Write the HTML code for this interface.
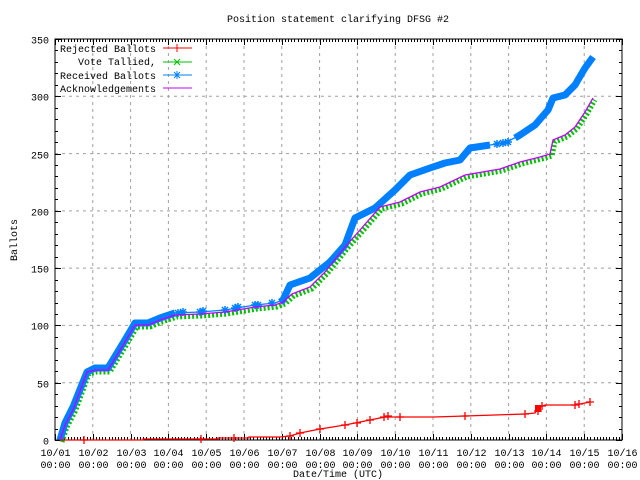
<!DOCTYPE html>
<html><head><meta charset="utf-8"><style>
body{margin:0;background:#fff}
svg{display:block;font-family:"Liberation Mono",monospace;font-size:10px}
</style></head><body>
<svg id="s" width="640" height="480" viewBox="0 0 640 480" xmlns="http://www.w3.org/2000/svg">
<rect width="640" height="480" fill="#fff"/>
<g id="grid" stroke="#a0a0a0" stroke-dasharray="3,4" stroke-width="1"></g>
<g id="ticks" stroke="#000" stroke-width="1"></g>
<rect x="55" y="39" width="567" height="401" fill="none" stroke="#000"/>
<text x="338" y="22" text-anchor="middle">Position statement clarifying DFSG #2</text>
<text x="338" y="477" text-anchor="middle">Date/Time (UTC)</text>
<text transform="translate(17,240) rotate(-90)" text-anchor="middle">Ballots</text>
<g id="lab"></g>
<!-- green -->
<polyline fill="none" stroke="#00c000" stroke-width="5" stroke-dasharray="2,2" transform="translate(2,2)" points="60,440 65,425 73,410 87,372 95,370 108,370 125,342 135,325 148,325 160,320 175,315 200,314 225,312 255,307 275,305 283,302 292,294 310,287 325,272 345,247 360,230 380,207 400,202 420,192 440,187 465,175 500,169 520,162 540,157 550,154 553,140 565,135 575,127 585,112 593,98"/>
<!-- blue -->
<polyline fill="none" stroke="#0080ff" stroke-width="1.3" points="60,440 65,423 73,407 87,372 95,368 108,368 125,340 135,323 148,323 160,318 175,313 200,312 225,310 255,305 275,303 283,300 290,285 310,278 330,262 345,245 355,218 375,208 395,190 410,175 430,168 445,163 460,160 470,148 490,145 505,143 520,135 535,125 548,110 553,98 565,95 575,85 585,68 593,57"/>
<polyline fill="none" stroke="#0080ff" stroke-width="7" stroke-linejoin="round" points="60,440 65,423 73,407 87,372 95,368 108,368 125,340 135,323 148,323 160,318 175,313"/>
<polyline fill="none" stroke="#0080ff" stroke-width="7" stroke-linejoin="round" points="280,302 283,300 290,285 310,278 330,262 345,245 355,218 375,208 395,190 410,175 430,168 445,163 460,160 470,148 490,145"/>
<polyline fill="none" stroke="#0080ff" stroke-width="7" stroke-linejoin="round" points="515,138 520,135 535,125 548,110 553,98 565,95 575,85 585,68 593,57"/>
<g id="bm" stroke="#0080ff" stroke-width="1.5"></g>
<!-- red -->
<polyline fill="none" stroke="#ff0000" stroke-width="1.3" points="60,440 143,440 143,439 218,439 218,438 249,438 249,437 280,437 290,436 300,433 320,429 345,425 370,420 385,417 400,417 434,417 465,416 495,415 525,414 535,413 538,408 545,405 575,405 590,402"/>
<g id="redm" stroke="#ff0000" stroke-width="1.3"></g>
<rect x="535" y="405" width="6" height="7" fill="#ff0000"/>
<!-- purple -->
<polyline fill="none" stroke="#c000ff" stroke-width="1.3" points="60,440 65,425 73,410 87,372 95,370 108,370 125,342 135,325 148,325 160,320 175,315 200,314 225,312 255,307 275,305 283,302 292,294 310,287 325,272 345,247 360,230 380,207 400,202 420,192 440,187 465,175 500,169 520,162 540,157 550,154 553,140 565,135 575,127 585,112 593,98"/>
<!-- legend -->
<g text-anchor="end">
<text x="156" y="52">Rejected Ballots</text>
<text x="156" y="65">Vote Tallied,</text>
<text x="156" y="79">Received Ballots</text>
<text x="156" y="92">Acknowledgements</text>
</g>
<line x1="163" y1="48" x2="192" y2="48" stroke="#ff0000"/>
<line x1="177" y1="44" x2="177" y2="52" stroke="#ff0000"/>
<line x1="163" y1="62" x2="192" y2="62" stroke="#00c000"/>
<path d="M174,59 l6,6 M180,59 l-6,6" stroke="#00c000"/>
<line x1="163" y1="75" x2="192" y2="75" stroke="#0080ff"/>
<path d="M174,72 l6,6 M180,72 l-6,6 M177,71 v8 M173,75 h8" stroke="#0080ff"/>
<line x1="163" y1="88" x2="192" y2="88" stroke="#c000ff"/>
</svg>
<script>
var ns="http://www.w3.org/2000/svg";
function el(p,t,a,txt){var e=document.createElementNS(ns,t);for(var k in a)e.setAttribute(k,a[k]);if(txt)e.textContent=txt;document.getElementById(p).appendChild(e);}
var x0=55,dx=567/15,y0=440,dy=401/7;
for(var i=1;i<15;i++){var x=x0+i*dx;el("grid","line",{x1:x,y1:39,x2:x,y2:440});}
for(var j=1;j<7;j++){var y=y0-j*dy;el("grid","line",{x1:55,y1:y,x2:622,y2:y});}
for(var i=0;i<=15;i++){var x=Math.round(x0+i*dx)+0.5;el("ticks","line",{x1:x,y1:440,x2:x,y2:434});el("ticks","line",{x1:x,y1:39,x2:x,y2:45});
var d=(i+1<10?"0":"")+(i+1);el("lab","text",{x:x,y:456,"text-anchor":"middle"},"10/"+d);el("lab","text",{x:x,y:468,"text-anchor":"middle"},"00:00");}
for(var k=0;k<180;k++){var x=Math.round(x0+k*dx/12)+0.5;el("ticks","line",{x1:x,y1:440,x2:x,y2:437});el("ticks","line",{x1:x,y1:39,x2:x,y2:42});}
for(var j=0;j<=7;j++){var y=Math.round(y0-j*dy)+0.5;el("ticks","line",{x1:55,y1:y,x2:61,y2:y});el("ticks","line",{x1:622,y1:y,x2:616,y2:y});el("lab","text",{x:49,y:y+4,"text-anchor":"end"},String(j*50));}
for(var m=0;m<35;m++){var y=Math.round(y0-m*dy/5)+0.5;el("ticks","line",{x1:55,y1:y,x2:58,y2:y});el("ticks","line",{x1:622,y1:y,x2:619,y2:y});}
var rm=[[84,440],[201,439],[234,438],[290,436],[300,433],[320,429],[345,425],[357,423],[370,420],[384,417],[388,416],[400,417],[465,416],[525,414],[538,411],[542,406],[575,405],[579,404],[590,402]];
rm.forEach(function(p){el("redm","path",{d:"M"+(p[0]-4)+","+p[1]+"h8M"+p[0]+","+(p[1]-4)+"v8"});});
var bm=[[178,313],[183,312],[200,312],[203,311],[225,310],[235,308],[238,307],[255,305],[258,305],[272,303],[497,144],[503,143],[508,142]];
bm.forEach(function(p){var x=p[0],y=p[1];el("bm","path",{d:"M"+(x-4)+","+y+"h8M"+x+","+(y-4)+"v8M"+(x-3)+","+(y-3)+"l6,6M"+(x+3)+","+(y-3)+"l-6,6"});});
</script>
</body></html>
